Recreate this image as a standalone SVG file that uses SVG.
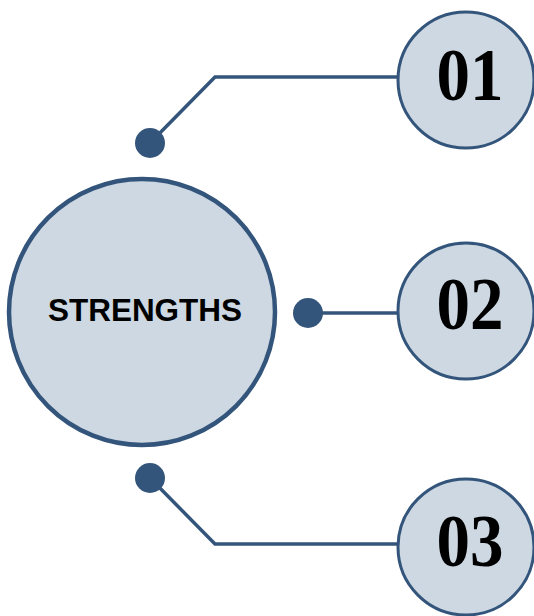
<svg xmlns="http://www.w3.org/2000/svg" width="534" height="616" viewBox="0 0 534 616">
<style>
.big{fill:#CDD8E2;stroke:#34557B;stroke-width:4.5}
.small{fill:#CDD8E2;stroke:#34557B;stroke-width:3}
.dot{fill:#34557B}
.conn{fill:none;stroke:#34557B;stroke-width:3.5;stroke-linejoin:miter}
.num{font-family:"Liberation Serif","Times New Roman",serif;font-weight:bold;font-size:74px;fill:#000;text-anchor:middle}
.lbl{font-family:"Liberation Sans",Arial,sans-serif;font-weight:bold;font-size:32px;fill:#000;text-anchor:middle}
</style>
<rect width="534" height="616" fill="#FFFFFF"/>
<g id="connectors">
<polyline class="conn" points="150,143 215,77 400,77"/>
<line class="conn" x1="308" y1="313" x2="399" y2="313"/>
<polyline class="conn" points="150,478 215,544 400,544"/>
<circle class="dot" cx="150" cy="143" r="15"/>
<circle class="dot" cx="308" cy="313" r="15"/>
<circle class="dot" cx="150" cy="478" r="15"/>
</g>
<g id="strengths">
<circle class="big" cx="142" cy="312" r="133"/>
<text class="lbl" x="145" y="320.5" textLength="194" lengthAdjust="spacingAndGlyphs">STRENGTHS</text>
</g>
<g id="n01">
<circle class="small" cx="466" cy="80" r="68"/>
<text class="num" x="470" y="100" textLength="67" lengthAdjust="spacingAndGlyphs">01</text>
</g>
<g id="n02">
<circle class="small" cx="466" cy="311" r="68"/>
<text class="num" x="470" y="329" textLength="67" lengthAdjust="spacingAndGlyphs">02</text>
</g>
<g id="n03">
<circle class="small" cx="466" cy="547" r="68"/>
<text class="num" x="470" y="566" textLength="67" lengthAdjust="spacingAndGlyphs">03</text>
</g>
</svg>
